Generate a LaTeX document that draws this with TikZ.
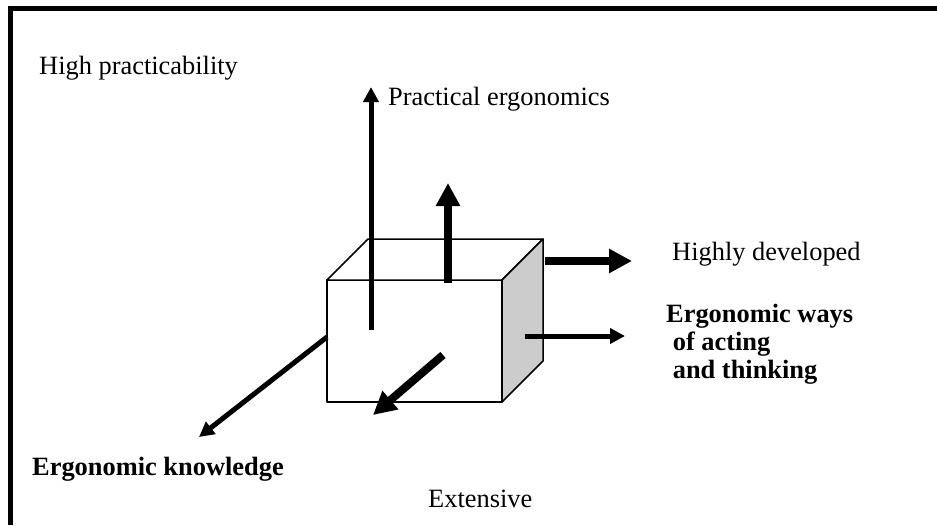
\documentclass[tikz,border=0pt]{standalone}
\usepackage{fontspec}
\setmainfont{Liberation Serif}
\usetikzlibrary{arrows.meta}
\definecolor{sidegray}{RGB}{204,204,204}

\begin{document}
\begin{tikzpicture}[x=1pt,y=-1pt,
        thinarrow/.style={line width=5pt,-{Triangle[length=15pt,width=15pt]}},
        thickarrow/.style={line width=8pt,-{Triangle[length=23pt,width=23pt]}},
        boxface/.style={line width=1.5pt,line join=round},
        lbl/.style={anchor=base west,inner sep=0pt,font=\fontsize{26.4}{28}\selectfont},
        lblbold/.style={lbl,align=left,font=\fontsize{26.4}{28}\selectfont\bfseries}]
            \useasboundingbox (0,0) rectangle (937,525);

            % 外框
            \draw[line width=5pt] (10,525) -- (10,8.5) -- (937,8.5);

            % 定义点
            \coordinate (F1) at (327,280);
            \coordinate (F2) at (502,280);
            \coordinate (F3) at (502,402);
            \coordinate (F4) at (327,402);
            \coordinate (B1) at (368,239); % 后面 = 前面 + (41,-41)
            \coordinate (B2) at (543,239);
            \coordinate (B3) at (543,361);

            % 长方体
            \draw[boxface,fill=white] (F1) -- (F2) -- (F3) -- (F4) -- cycle;
            \draw[boxface,fill=white] (F1) -- (B1) -- (B2) -- (F2) -- cycle;
            \draw[boxface,fill=sidegray] (F2) -- (B2) -- (B3) -- (F3) -- cycle;

            % 箭头起点和终点
            \coordinate (up1) at (371,330);
            \coordinate (up2) at (371,87);
            \coordinate (top1) at (448,283);
            \coordinate (top2) at (448,183);
            \coordinate (right1) at (545,261);
            \coordinate (right2) at (632,261);
            \coordinate (side1) at (525,336);
            \coordinate (side2) at (625,336);
            \coordinate (left1) at (327,337);
            \coordinate (left2) at (199,437);
            \coordinate (front1) at (443,355);
            \coordinate (front2) at (373,415);

            \draw[thinarrow] (up1) -- (up2);
            \draw[thickarrow] (top1) -- (top2);
            \draw[thickarrow] (right1) -- (right2);
            \draw[thinarrow] (side1) -- (side2);
            \draw[thinarrow] (left1) -- (left2);
            \draw[thickarrow] (front1) -- (front2);

            % 标注
            \node[lbl] (high) at (39,74.5) {High practicability};
            \node[lbl] (practical) at (388,105) {Practical ergonomics};
            \node[lbl] (developed) at (672,260) {Highly developed};
            \node[lblbold] (ways) at (666,378) {Ergonomic ways\\ \ of acting\\ \ and thinking}; % base = 最后一行
            \node[lblbold] (knowledge) at (32,475) {Ergonomic knowledge};
            \node[lbl] (extensive) at (428,507) {Extensive};

        \end{tikzpicture}
\end{document}
